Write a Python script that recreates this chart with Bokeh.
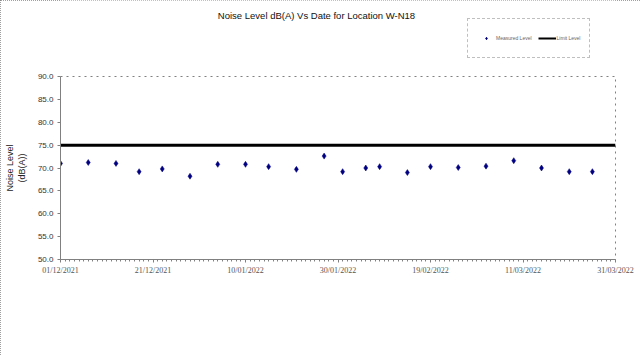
import datetime as dt
from bokeh.plotting import figure
from bokeh.layouts import column
from bokeh.models import (ColumnDataSource, FixedTicker, DatetimeTickFormatter, PrintfTickFormatter,
                          Range1d, Legend, LegendItem, Label)
from bokeh.embed import file_html
from bokeh.resources import INLINE

# ---- data ----
measure_dates = ["2021-12-01", "2021-12-07", "2021-12-13", "2021-12-18", "2021-12-23", "2021-12-29",
                 "2022-01-04", "2022-01-10", "2022-01-15", "2022-01-21", "2022-01-27", "2022-01-31",
                 "2022-02-05", "2022-02-08", "2022-02-14", "2022-02-19", "2022-02-25", "2022-03-03",
                 "2022-03-09", "2022-03-15", "2022-03-21", "2022-03-26"]
measured_level = [71.0, 71.2, 71.0, 69.2, 69.8, 68.2,
                  70.8, 70.8, 70.3, 69.7, 72.6, 69.2,
                  70.0, 70.3, 69.0, 70.3, 70.1, 70.4,
                  71.6, 70.0, 69.2, 69.2]
limit_dates = ["2021-12-01", "2022-03-31"]
limit_level = [75.0, 75.0]
x_tick_dates = ["2021-12-01", "2021-12-21", "2022-01-10", "2022-01-30", "2022-02-19", "2022-03-11", "2022-03-31"]
y_ticks = [50, 55, 60, 65, 70, 75, 80, 85, 90]
title_text = "Noise Level dB(A) Vs Date for Location W-N18"
series_names = ["Measured Level", "Limit Level"]

def to_dt(s):
    return dt.datetime.strptime(s, "%Y-%m-%d")

def to_ms(d):
    return (d - dt.datetime(1970, 1, 1)).total_seconds() * 1000.0

mdates = [to_dt(s) for s in measure_dates]
ldates = [to_dt(s) for s in limit_dates]
xticks = [to_ms(to_dt(s)) for s in x_tick_dates]
start, end = to_dt(x_tick_dates[0]), to_dt(x_tick_dates[-1])
minor = [to_ms(start + dt.timedelta(days=i)) for i in range((end - start).days + 1)]

FONT = "Liberation Sans"
GREY = "#808080"
PT_COLOR = "#000080"

W = 640
HEAD_H = 71
FRAME_L, FRAME_W = 60, 555

# ---------- header (title + legend); its frame lines up with the chart frame ----------
head = figure(width=W, height=HEAD_H, output_backend="svg", toolbar_location=None,
              x_range=Range1d(FRAME_L, FRAME_L + FRAME_W), y_range=Range1d(0, HEAD_H),
              min_border_left=FRAME_L, min_border_right=W - FRAME_L - FRAME_W,
              min_border_top=0, min_border_bottom=0, title=None)
head.axis.visible = False
head.grid.visible = False
head.outline_line_color = None
head.background_fill_color = "white"
head.border_fill_color = "white"

head.add_layout(Label(x=316, y=HEAD_H - 15, text=title_text, text_font=FONT, text_font_size="9.5px",
                      text_align="center", text_baseline="middle", text_color="#111111"))

# legend swatches (kept outside the visible range, only used by the legend)
d_pts = head.scatter(x=[-100], y=[-100], marker="diamond", size=5, fill_color=PT_COLOR, line_color=PT_COLOR)
d_lim = head.line(x=[-100, -90], y=[-100, -100], line_color="black", line_width=2)
legend = Legend(items=[LegendItem(label=series_names[0], renderers=[d_pts]),
                       LegendItem(label=series_names[1], renderers=[d_lim])],
                location=(467 - FRAME_L, 13), orientation="horizontal",
                label_text_font=FONT, label_text_font_size="5px", label_text_color="#666666",
                glyph_width=18, glyph_height=6, label_height=20, label_width=10,
                label_standoff=1, spacing=6, padding=9, margin=0,
                border_line_color=GREY, border_line_dash="dotted",
                background_fill_color="white")
head.add_layout(legend)

# ---------- main chart ----------
p = figure(x_axis_type="datetime", output_backend="svg", toolbar_location=None,
           frame_width=FRAME_W, frame_height=183,
           min_border_left=FRAME_L, min_border_right=W - FRAME_L - FRAME_W,
           min_border_top=5, min_border_bottom=96,
           x_range=Range1d(start, end), y_range=Range1d(50, 90), title=None)
p.background_fill_color = "white"
p.border_fill_color = "white"
p.outline_line_color = GREY
p.outline_line_dash = "dotted"
p.xgrid.visible = False
p.ygrid.visible = False

src = ColumnDataSource(dict(x=mdates, y=measured_level))
lsrc = ColumnDataSource(dict(x=ldates, y=limit_level))
p.line("x", "y", source=lsrc, line_color="black", line_width=3)
p.scatter("x", "y", source=src, marker="diamond", size=6, fill_color=PT_COLOR, line_color=PT_COLOR,
          line_width=0.5)

xa = p.xaxis[0]
xa.ticker = FixedTicker(ticks=xticks, minor_ticks=minor)
xa.formatter = DatetimeTickFormatter(days="%d/%m/%Y", months="%d/%m/%Y", years="%d/%m/%Y")
xa.axis_line_color = GREY
xa.major_tick_line_color = GREY
xa.minor_tick_line_color = GREY
xa.major_tick_in = 0
xa.major_tick_out = 3
xa.minor_tick_in = 0
xa.minor_tick_out = 2
xa.major_label_text_font = "Liberation Serif"
xa.major_label_text_font_size = "8px"
xa.major_label_text_color = "#555555"
xa.major_label_standoff = 3

ya = p.yaxis[0]
ya.ticker = FixedTicker(ticks=y_ticks)
ya.formatter = PrintfTickFormatter(format="%.1f")
ya.axis_line_color = GREY
ya.major_tick_line_color = GREY
ya.minor_tick_line_color = None
ya.major_tick_in = 0
ya.major_tick_out = 3
ya.major_label_text_font = FONT
ya.major_label_text_font_size = "8px"
ya.major_label_text_color = "#333333"
ya.major_label_standoff = 4
ya.axis_label = "Noise Level\n(dB(A))"
ya.axis_label_text_font = FONT
ya.axis_label_text_font_style = "normal"
ya.axis_label_text_font_size = "9px"
ya.axis_label_text_color = "#222222"
ya.axis_label_standoff = 8

layout = column(head, p, spacing=0,
                styles={"outline": "1px dotted #808080", "outline-offset": "-1px"})

open("out.html", "w").write(file_html(layout, INLINE))
